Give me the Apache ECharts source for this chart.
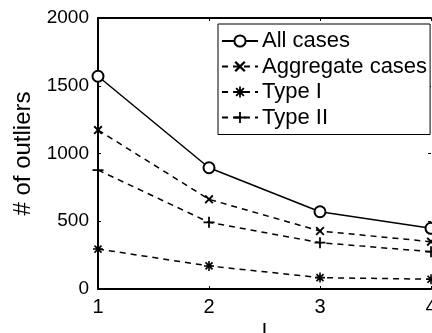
<!DOCTYPE html>
<html><head><meta charset="utf-8">
<script src="https://cdn.jsdelivr.net/npm/echarts@6/dist/echarts.min.js"></script>
<style>html,body{margin:0;padding:0;background:#fff}#c{width:432px;height:333px}</style>
</head><body><div id="c"></div>
<script>
const xValues = [1, 2, 3, 4];
const allCases = [1570, 895, 570, 448];
const aggregateCases = [1173, 662, 428, 349];
const typeI = [295, 170, 84, 72];
const typeII = [878, 492, 342, 275];
const yTicks = [0, 500, 1000, 1500, 2000];
const seriesNames = ['All cases', 'Aggregate cases', 'Type I', 'Type II'];

const FONT = 'Liberation Sans, Arial, Helvetica, sans-serif';
const xSym = 'path://M-4.7,-3.3L-3.3,-4.7L4.7,3.3L3.3,4.7Z M3.3,-4.7L4.7,-3.3L-3.3,4.7L-4.7,3.3Z';
const plusSym = 'path://M-0.8,-5L0.8,-5L0.8,-0.8L5,-0.8L5,0.8L0.8,0.8L0.8,5L-0.8,5L-0.8,0.8L-5,0.8L-5,-0.8L-0.8,-0.8Z';
const starSym = 'path://M-0.8,-5L0.8,-5L0.8,-0.8L5,-0.8L5,0.8L0.8,0.8L0.8,5L-0.8,5L-0.8,0.8L-5,0.8L-5,-0.8L-0.8,-0.8Z M-4.1,-2.9L-2.9,-4.1L4.1,2.9L2.9,4.1Z M2.9,-4.1L4.1,-2.9L-2.9,4.1L-4.1,2.9Z';

function pairs(vals){ return xValues.map((x,i)=>[x, vals[i]]); }

const chart = echarts.init(document.getElementById('c'), null, {renderer:'canvas'});
const mk = (name, vals, sym, size, dashed) => ({
  name, type:'line', data: pairs(vals), symbol: sym, symbolSize: size,
  showAllSymbol: true,
  lineStyle:{color:'#000', width:1.5, type: dashed ? [6,5] : 'solid'},
  itemStyle:{color:'#000', borderColor:'#000', borderWidth: sym==='emptyCircle'?1.5:0},
  emphasis:{disabled:true}, animation:false, z: 3
});
chart.setOption({
  animation:false,
  backgroundColor:'#fff',
  textStyle:{fontFamily: FONT},
  grid:{left:98, right:1, top:18, bottom:44, containLabel:false, outerBoundsMode:'none'},
  legend:{
    data: seriesNames, orient:'vertical', left:218, top:24,
    backgroundColor:'#fff', borderColor:'#000', borderWidth:1, borderRadius:0,
    padding:[6,3,6,3], itemGap:3.5, itemWidth:36, itemHeight:14,
    textStyle:{fontFamily:FONT, fontSize:22, color:'#000', padding:[0,0,0,-1]},
    inactiveColor:'#000', selectedMode:false
  },
  xAxis:[{
    type:'value', min:1, max:4, interval:1, position:'bottom',
    name:'l', nameLocation:'middle', nameGap:26,
    nameTextStyle:{fontFamily:FONT, fontSize:22, color:'#000'},
    axisLine:{show:true, onZero:false, lineStyle:{color:'#000', width:2}},
    axisTick:{show:true, inside:true, length:3, lineStyle:{color:'#000', width:1}},
    axisLabel:{fontFamily:FONT, fontSize:20, color:'#000', margin:8},
    splitLine:{show:false}
  },{
    type:'value', min:1, max:4, interval:1, position:'top',
    axisLine:{show:true, onZero:false, lineStyle:{color:'#000', width:2}},
    axisTick:{show:true, inside:true, length:3, lineStyle:{color:'#000', width:1}},
    axisLabel:{show:false}, splitLine:{show:false}
  }],
  yAxis:[{
    type:'value', min:0, max:2000, interval:500,
    name:'# of outliers', nameLocation:'middle', nameGap:57, nameRotate:90,
    nameTextStyle:{fontFamily:FONT, fontSize:24, color:'#000'},
    axisLine:{show:true, onZero:false, lineStyle:{color:'#000', width:2}},
    axisTick:{show:true, inside:true, length:3, lineStyle:{color:'#000', width:1}},
    axisLabel:{fontFamily:FONT, fontSize:19, color:'#000', margin:9,
      formatter: v => yTicks.includes(v) ? String(v) : ''},
    splitLine:{show:false}
  },{
    type:'value', min:0, max:2000, interval:500, position:'right',
    axisLine:{show:false},
    axisTick:{show:true, inside:true, length:3, lineStyle:{color:'#000', width:1}},
    axisLabel:{show:false}, splitLine:{show:false}
  }],
  series:[
    mk(seriesNames[0], allCases, 'emptyCircle', 11, false),
    mk(seriesNames[1], aggregateCases, xSym, 9, true),
    mk(seriesNames[2], typeI, starSym, 10, true),
    mk(seriesNames[3], typeII, plusSym, 11, true)
  ]
});
</script></body></html>
